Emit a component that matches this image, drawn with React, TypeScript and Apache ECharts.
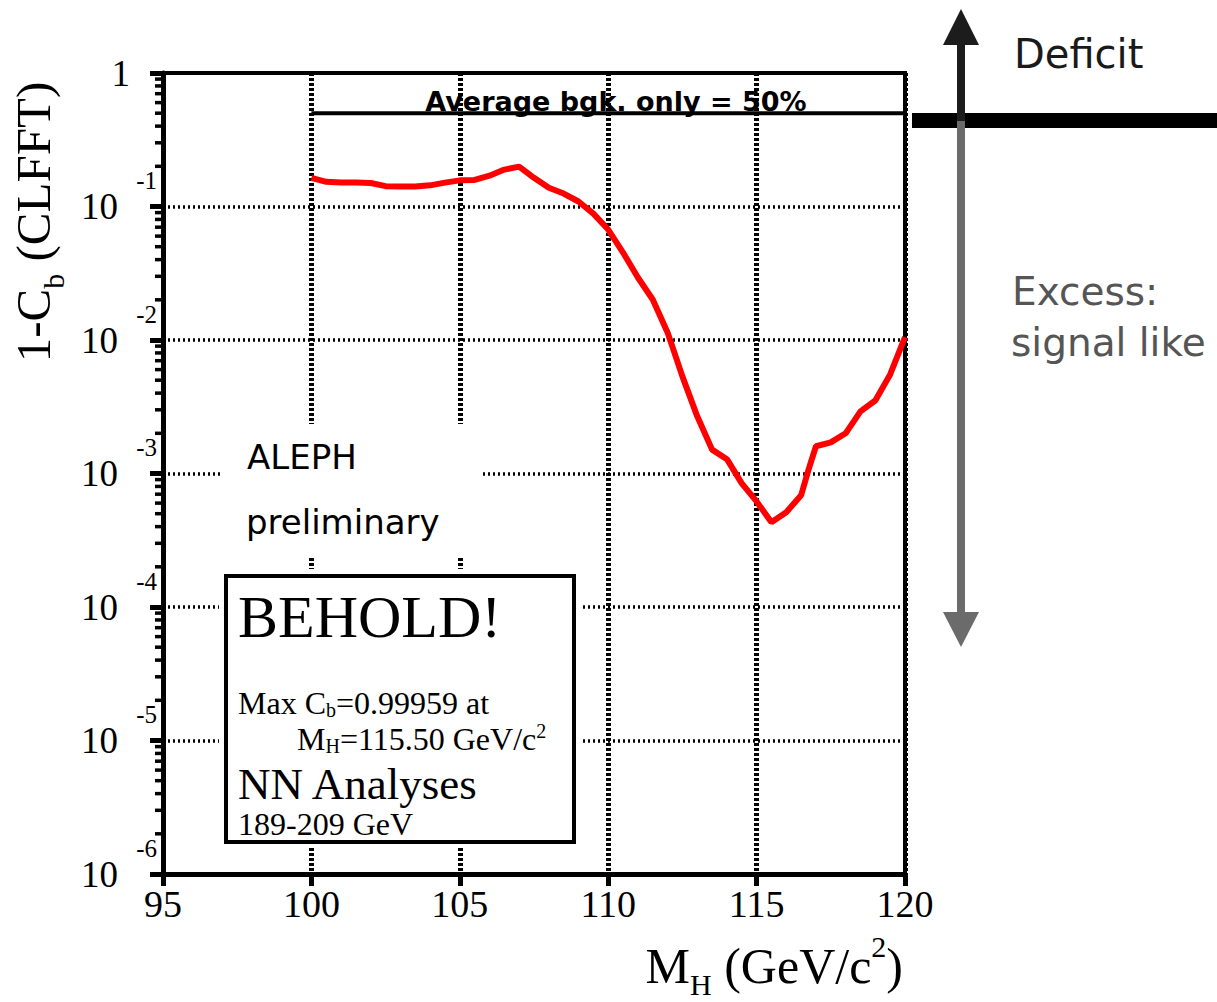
import React, { useEffect, useRef } from "react";
import * as echarts from "echarts";

// ---- data ----
const massGeV = [
  100, 100.5, 101, 101.5, 102, 102.5, 103, 103.5, 104, 104.5, 105, 105.5, 106, 106.5, 107,
  107.5, 108, 108.5, 109, 109.5, 110, 110.5, 111, 111.5, 112, 112.5, 113, 113.5, 114, 114.5,
  115, 115.5, 116, 116.5, 116.75, 117, 117.5, 118, 118.5, 119, 119.5, 120,
];
const oneMinusCb = [
  0.164, 0.153, 0.151, 0.151, 0.15, 0.142, 0.141, 0.141, 0.144, 0.151, 0.157, 0.158, 0.17, 0.189, 0.199,
  0.164, 0.138, 0.125, 0.109, 0.0885, 0.0672, 0.0452, 0.0294, 0.0201, 0.0114, 0.00534, 0.00268, 0.00151, 0.00128, 0.000844,
  0.000618, 0.000431, 0.000513, 0.000687, 0.00107, 0.0016, 0.00171, 0.002, 0.00292, 0.00352, 0.00552, 0.0105,
];
const bgkMass = [100, 120];
const bgkLevel = 0.5;

const xTickLabels = ["95", "100", "105", "110", "115", "120"];
const yTickBase = ["1", "10", "10", "10", "10", "10", "10"];
const yTickExponent = ["", "-1", "-2", "-3", "-4", "-5", "-6"];
const minorTickMultipliers = [2, 3, 4, 5, 6, 7, 8, 9];
const decades = [1e-6, 1e-5, 1e-4, 1e-3, 1e-2, 1e-1];

const SERIF = "'Liberation Serif', 'Times New Roman', serif";
const SANS = "'DejaVu Sans', sans-serif";

export default function App() {
  const ref = useRef<HTMLDivElement>(null);

  useEffect(() => {
    if (!ref.current) return;
    const chart = echarts.init(ref.current, undefined, { renderer: "svg" });

    const curve = massGeV.map((m, i) => [m, oneMinusCb[i]]);
    const bgk = bgkMass.map((m) => [m, bgkLevel]);
    const minorTicks: number[][] = [];
    decades.forEach((d) => minorTickMultipliers.forEach((k) => minorTicks.push([95, d * k])));

    const expIndex = (v: number) => Math.round(-Math.log10(v));

    const serifRich = (size: number, extra: any = {}) => ({
      fontFamily: SERIF,
      fontSize: size,
      color: "#000",
      verticalAlign: "middle",
      ...extra,
    });

    const option: any = {
      animation: false,
      backgroundColor: "#fff",
      grid: {
        left: 163,
        right: 312,
        top: 73,
        bottom: 128,
        show: true,
        borderColor: "#000",
        borderWidth: 4,
        backgroundColor: "transparent",
      },
      xAxis: {
        type: "value",
        min: 95,
        max: 120,
        interval: 5,
        axisLine: { show: true, onZero: false, lineStyle: { color: "#000", width: 5 } },
        axisTick: { show: true, length: 12, lineStyle: { color: "#000", width: 5 } },
        axisLabel: {
          color: "#000",
          fontFamily: SERIF,
          fontSize: 38,
          margin: 11,
          formatter: (v: number) => xTickLabels[Math.round((v - 95) / 5)] ?? "",
        },
        splitLine: { show: true, lineStyle: { color: "#000", width: 5, type: [3, 2] } },
      },
      yAxis: [
        {
          type: "log",
          logBase: 10,
          min: 1e-6,
          max: 1,
          position: "left",
          axisLine: { show: true, onZero: false, lineStyle: { color: "#000", width: 5 } },
          axisTick: { show: true, length: 13, lineStyle: { color: "#000", width: 5 } },
          axisLabel: {
            margin: 33,
            formatter: (v: number) => {
              const i = expIndex(v);
              return i === 0 ? `{one|${yTickBase[i]}}` : `{b|${yTickBase[i]}}`;
            },
            rich: {
              one: serifRich(37),
              b: serifRich(37, { padding: [0, 12, 0, 0] }),
            },
          },
          splitLine: { show: true, lineStyle: { color: "#000", width: 3.5, type: [2, 3] } },
        },
        {
          type: "log",
          logBase: 10,
          min: 1e-6,
          max: 1,
          position: "left",
          offset: 0,
          axisLine: { show: false },
          axisTick: { show: false },
          splitLine: { show: false },
          axisLabel: {
            margin: 6,
            formatter: (v: number) => {
              const e = yTickExponent[expIndex(v)];
              return e ? `{s|${e}}` : "";
            },
            rich: { s: serifRich(25, { padding: [0, 0, 52, 0] }) },
          },
        },
      ],
      series: [
        {
          type: "line",
          name: "1-Cb",
          data: curve,
          yAxisIndex: 0,
          showSymbol: false,
          symbol: "none",
          lineStyle: { color: "#ff0000", width: 6 },
          z: 5,
        },
        {
          type: "line",
          name: "bgk",
          data: bgk,
          yAxisIndex: 0,
          showSymbol: false,
          symbol: "none",
          lineStyle: { color: "#000", width: 4 },
          z: 4,
        },
        {
          type: "custom",
          name: "minorTicks",
          data: minorTicks,
          yAxisIndex: 0,
          clip: false,
          silent: true,
          renderItem: (params: any, api: any) => {
            const p = api.coord([api.value(0), api.value(1)]);
            return {
              type: "line",
              shape: { x1: p[0] - 8, y1: p[1], x2: p[0], y2: p[1] },
              style: { stroke: "#000", lineWidth: 3.5 },
            };
          },
          z: 6,
        },
      ],
      graphic: [
        // white patches hiding grid behind annotations
        { type: "rect", z: 10, shape: { x: 223, y: 424, width: 257, height: 133 }, style: { fill: "#fff" } },
        { type: "rect", z: 10, shape: { x: 219, y: 569, width: 362, height: 279 }, style: { fill: "#fff" } },
        {
          type: "rect",
          z: 11,
          shape: { x: 226, y: 576, width: 348, height: 266 },
          style: { fill: "#fff", stroke: "#000", lineWidth: 4 },
        },
        // texts in box
        {
          type: "text",
          z: 20,
          style: { x: 238, y: 617, text: "BEHOLD!", font: `60px ${SERIF}`, fill: "#000", verticalAlign: "middle" },
        },
        {
          type: "text",
          z: 20,
          style: {
            x: 238,
            y: 721,
            verticalAlign: "middle",
            text: "{t|Max C}{sub|b}{t|=0.99959 at}\n{ind| }{t|M}{sub|H}{t|=115.50 GeV/c}{sup|2}",
            rich: {
              t: serifRich(32, { lineHeight: 36 }),
              ind: serifRich(32, { lineHeight: 36, width: 59 }),
              sub: serifRich(20, { padding: [14, 0, 0, 0] }),
              sup: serifRich(20, { padding: [0, 0, 16, 0] }),
            },
          },
        },
        {
          type: "text",
          z: 20,
          style: { x: 238, y: 784, text: "NN Analyses", font: `45px ${SERIF}`, fill: "#000", verticalAlign: "middle" },
        },
        {
          type: "text",
          z: 20,
          style: { x: 238, y: 824, text: "189-209 GeV", font: `32px ${SERIF}`, fill: "#000", verticalAlign: "middle" },
        },
        // ALEPH preliminary
        {
          type: "text",
          z: 20,
          style: { x: 247, y: 457, text: "ALEPH", font: `34px ${SANS}`, fill: "#000", verticalAlign: "middle" },
        },
        {
          type: "text",
          z: 20,
          style: { x: 246, y: 522, text: "preliminary", font: `34px ${SANS}`, fill: "#000", verticalAlign: "middle" },
        },
        // bgk label
        {
          type: "text",
          z: 20,
          style: {
            x: 616,
            y: 101,
            text: "Average bgk. only = 50%",
            font: `bold 27px ${SANS}`,
            fill: "#000",
            align: "center",
            verticalAlign: "middle",
          },
        },
        // axis titles
        {
          type: "text",
          z: 20,
          style: {
            x: 903,
            y: 966,
            align: "right",
            verticalAlign: "middle",
            text: "{t|M}{sub|H}{t| (GeV/c}{sup|2}{t|)}",
            rich: {
              t: serifRich(50),
              sub: serifRich(30, { padding: [36, 0, 0, 0] }),
              sup: serifRich(30, { padding: [0, 0, 40, 0] }),
            },
          },
        },
        {
          type: "text",
          z: 20,
          x: 33,
          y: 222,
          rotation: Math.PI / 2,
          style: {
            x: 0,
            y: 0,
            align: "center",
            verticalAlign: "middle",
            text: "{t|1-C}{sub|b}{t| (CLFFT)}",
            rich: {
              t: serifRich(49),
              sub: serifRich(30, { padding: [40, 0, 0, 0] }),
            },
          },
        },
        // right side annotation
        { type: "rect", z: 15, shape: { x: 912, y: 113, width: 305, height: 15 }, style: { fill: "#000" } },
        { type: "rect", z: 16, shape: { x: 957, y: 40, width: 8, height: 81 }, style: { fill: "#1c1c1c" } },
        { type: "rect", z: 16, shape: { x: 957, y: 121, width: 8, height: 495 }, style: { fill: "#6b6b6b" } },
        {
          type: "polygon",
          z: 16,
          shape: { points: [[961, 9], [979, 45], [943, 45]] },
          style: { fill: "#1c1c1c" },
        },
        {
          type: "polygon",
          z: 16,
          shape: { points: [[943, 612], [979, 612], [961, 647]] },
          style: { fill: "#6b6b6b" },
        },
        {
          type: "text",
          z: 20,
          style: { x: 1014, y: 54, text: "Deficit", font: `40px ${SANS}`, fill: "#1a1a1a", verticalAlign: "middle" },
        },
        {
          type: "text",
          z: 20,
          style: { x: 1012, y: 291, text: "Excess:", font: `39px ${SANS}`, fill: "#555", verticalAlign: "middle" },
        },
        {
          type: "text",
          z: 20,
          style: { x: 1011, y: 342, text: "signal like", font: `39px ${SANS}`, fill: "#555", verticalAlign: "middle" },
        },
      ],
    };

    chart.setOption(option);
    return () => chart.dispose();
  }, []);

  return (
    <div
      ref={ref}
      style={{ position: "absolute", left: 0, top: 0, width: 1217, height: 1002, background: "#fff" }}
    />
  );
}
